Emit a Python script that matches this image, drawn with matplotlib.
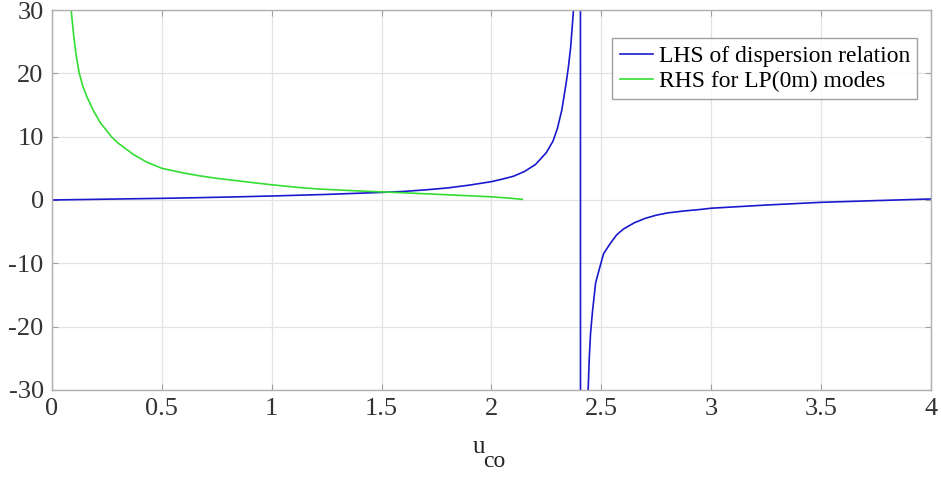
import matplotlib
matplotlib.use('Agg')
import matplotlib.pyplot as plt

plt.rcParams['font.family'] = ['Liberation Serif', 'DejaVu Serif']
plt.rcParams['axes.unicode_minus'] = False

# LHS of dispersion relation (two branches joined by the jump at ~2.405)
u_lhs = [0.0, 0.25, 0.5, 0.674, 0.85, 1.0, 1.25, 1.5, 1.6, 1.7, 1.8, 1.9, 2.0, 2.05,
         2.1, 2.15, 2.2, 2.25, 2.28, 2.3, 2.32, 2.34, 2.35, 2.36, 2.37, 2.375, 2.39, 2.404,
         2.406, 2.43, 2.44, 2.445, 2.451, 2.46, 2.474, 2.49, 2.51, 2.54, 2.57, 2.6, 2.65,
         2.7, 2.75, 2.8, 2.875, 2.95, 3.0, 3.1, 3.25, 3.5, 3.75, 4.0]
lhs = [0.0, 0.13, 0.26, 0.37, 0.5, 0.63, 0.88, 1.2, 1.35, 1.6, 1.9, 2.35, 2.9, 3.3,
       3.75, 4.5, 5.6, 7.5, 9.3, 11.3, 14.2, 18.5, 21.0, 24.0, 28.5, 31.0, 60.0, 500.0,
       -500.0, -60.0, -30.0, -25.0, -21.0, -17.5, -13.1, -11.0, -8.5, -6.9, -5.5, -4.6, -3.6,
       -2.9, -2.4, -2.05, -1.74, -1.5, -1.3, -1.1, -0.8, -0.37, -0.1, 0.16]

# RHS for LP(0m) modes
u_rhs = [0.08, 0.087, 0.1, 0.11, 0.124, 0.14, 0.16, 0.19, 0.22, 0.27, 0.3, 0.37, 0.43,
         0.5, 0.6, 0.674, 0.75, 0.9, 1.0, 1.13, 1.22, 1.4, 1.5, 1.585, 1.8, 2.0, 2.08, 2.14]
rhs = [31.0, 30.0, 25.5, 22.8, 20.0, 18.0, 16.2, 14.0, 12.2, 10.0, 9.0, 7.2, 6.0,
       5.0, 4.25, 3.8, 3.42, 2.8, 2.4, 1.95, 1.72, 1.42, 1.28, 1.16, 0.82, 0.5, 0.3, 0.1]

fig = plt.figure(figsize=(9.41, 4.79), dpi=100)
ax = fig.add_axes([0.0553, 0.186, 0.934, 0.793])

ax.plot(u_lhs, lhs, color='#1a1acc', lw=1.2, label='LHS of dispersion relation')
ax.plot(u_rhs, rhs, color='#33dd33', lw=1.2, label='RHS for LP(0m) modes')

ax.set_xlim(0, 4)
ax.set_ylim(-30, 30)
ax.set_xticks([0, 0.5, 1, 1.5, 2, 2.5, 3, 3.5, 4])
ax.set_xticklabels(['0', '0.5', '1', '1.5', '2', '2.5', '3', '3.5', '4'])
ax.set_yticks([-30, -20, -10, 0, 10, 20, 30])

ax.grid(True, color='#e3e3e3', lw=0.9)
ax.set_axisbelow(True)
for s in ax.spines.values():
    s.set_color('#b0b0b0')
    s.set_linewidth(1.0)
ax.tick_params(direction='in', length=4, color='#a0a0a0', labelsize=19,
               labelcolor='#333333', top=True, right=True, pad=6)

# x label "u" with a dropped "co" subscript, as in the reference
fig.text(0.5027, 0.0543, 'u', fontsize=18, color='#222222', va='baseline')
fig.text(0.5135, 0.025, 'co', fontsize=17, color='#222222', va='baseline')

leg = ax.legend(loc='upper right', bbox_to_anchor=(0.984, 0.926), borderaxespad=0,
                fontsize=17, frameon=True, fancybox=False, handlelength=1.4,
                borderpad=0.3, labelspacing=0.15, handletextpad=0.25)
leg.get_frame().set_edgecolor('#888888')
leg.get_frame().set_linewidth(1.0)

fig.savefig('out.png', dpi=100)
